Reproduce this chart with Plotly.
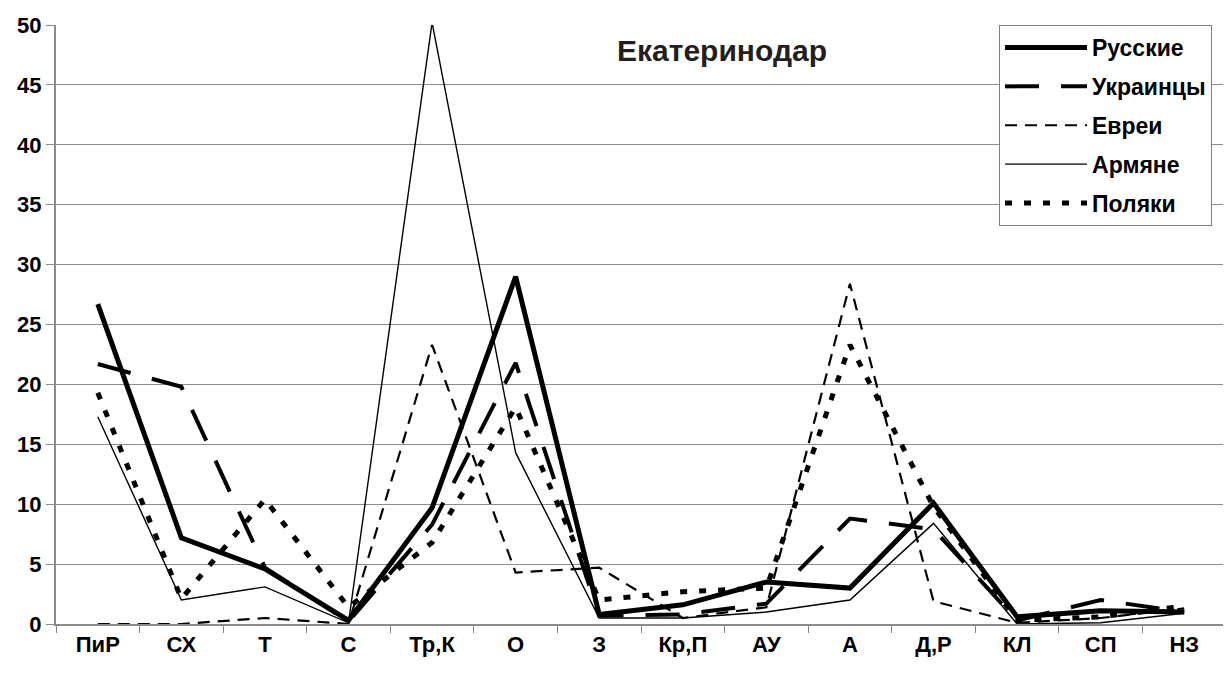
import plotly.graph_objects as go

categories = ["ПиР", "СХ", "Т", "С", "Тр,К", "О", "З", "Кр,П", "АУ", "А", "Д,Р", "КЛ", "СП", "НЗ"]

russians   = [26.7, 7.2, 4.6, 0.3, 9.7, 29.0, 0.8, 1.6, 3.5, 3.0, 10.1, 0.6, 1.1, 1.0]
ukrainians = [21.7, 19.8, 4.7, 0.2, 8.3, 21.8, 0.7, 0.8, 1.7, 8.8, 7.9, 0.3, 2.0, 1.0]
jews       = [0.0, 0.0, 0.5, 0.0, 23.3, 4.3, 4.7, 0.5, 1.4, 28.4, 1.9, 0.1, 0.5, 1.3]
armenians  = [17.3, 2.0, 3.1, 0.1, 50.2, 14.3, 0.5, 0.5, 1.0, 2.0, 8.4, 0.0, 0.1, 0.9]
poles      = [19.3, 2.1, 10.4, 1.4, 6.8, 18.1, 2.0, 2.7, 3.0, 23.3, 9.8, 0.3, 0.6, 1.5]

series_names = ["Русские", "Украинцы", "Евреи", "Армяне", "Поляки"]
tick_vals_y = list(range(0, 51, 5))

styles = [
    dict(width=5, dash="solid"),
    dict(width=4, dash="34px,22px"),
    dict(width=2.2, dash="12px,8px"),
    dict(width=1.4, dash="solid"),
    dict(width=5, dash="7px,12px"),
]

fig = go.Figure()
for name, vals, st in zip(series_names, [russians, ukrainians, jews, armenians, poles], styles):
    fig.add_trace(go.Scatter(
        x=categories, y=vals, name=name, mode="lines",
        line=dict(color="black", width=st["width"], dash=st["dash"]),
        legendgroup=name,
    ))

font_family = "Liberation Sans, Arial, sans-serif"

# the page body has an 8px margin, so the figure is sized to fit the window
fig.update_layout(
    width=1223, height=670,
    margin=dict(l=48, r=5, t=14, b=54),
    paper_bgcolor="white", plot_bgcolor="white",
    showlegend=True,
    legend=dict(
        x=0.806, y=1.0, xanchor="left", yanchor="top",
        bgcolor="white", bordercolor="#808080", borderwidth=1,
        font=dict(family=font_family, size=23, color="black", weight="bold"),
        itemwidth=82, tracegroupgap=6,
    ),
    xaxis=dict(
        type="category", range=[-0.5, 13.5],
        tickson="boundaries", ticks="outside", ticklen=7, tickcolor="#808080",
        showline=True, linecolor="#8c8c8c", linewidth=2,
        showgrid=False, zeroline=False,
        tickfont=dict(family=font_family, size=22, color="black", weight="bold"),
        ticklabelstandoff=0,
    ),
    yaxis=dict(
        range=[0, 50], tickvals=tick_vals_y,
        showgrid=True, gridcolor="#8c8c8c", gridwidth=1,
        showline=True, linecolor="#8c8c8c", linewidth=2,
        ticks="outside", ticklen=8, tickcolor="#8c8c8c",
        zeroline=False,
        tickfont=dict(family=font_family, size=22, color="black", weight="bold"),
    ),
    annotations=[dict(
        text="Екатеринодар", x=0.569, y=0.957, xref="paper", yref="paper",
        xanchor="center", yanchor="middle", showarrow=False,
        font=dict(family=font_family, size=30, color="#231f20", weight="bold"),
    )],
)

fig.write_html("out.html")
